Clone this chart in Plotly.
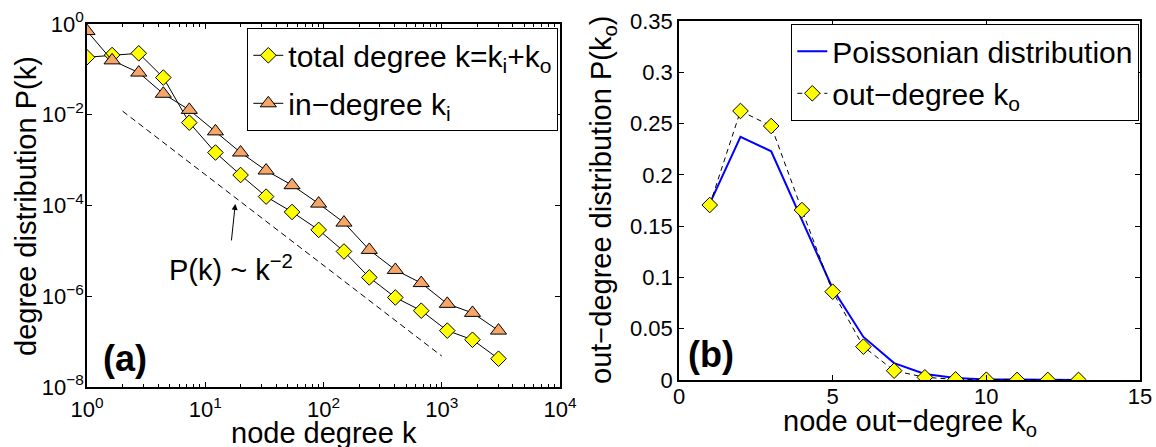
import plotly.graph_objects as go

# ---------------- data ----------------
deg_k = [1.0, 1.63, 2.74, 4.42, 7.33, 12.2, 19.9, 32.7, 54.2, 91, 149, 244,
         405, 671, 1114, 1820, 3020]
total_p = [0.185, 0.207, 0.226, 0.066, 0.0067, 0.00147, 4.7e-4, 1.57e-4,
           7.2e-5, 2.9e-5, 9.7e-6, 2.6e-6, 9.4e-7, 4.8e-7, 1.75e-7, 1.1e-7,
           4.2e-8]
in_p = [0.70, 0.158, 0.085, 0.029, 0.0128, 0.0043, 0.00147, 5.9e-4, 2.8e-4,
        1.1e-4, 4.2e-5, 1.05e-5, 3.8e-6, 1.95e-6, 6.8e-7, 4.3e-7, 1.75e-7]
guide_k = [2.0, 1000.0]
guide_p = [1.2e-2, 4.8e-8]

out_k = [1, 2, 3, 4, 5, 6, 7, 8, 9, 10, 11, 12, 13]
out_p = [0.1706, 0.2623, 0.2476, 0.1657, 0.0861, 0.0325, 0.0091, 0.0026,
         0.0006, 0.0003, 0.0001, 0.0001, 0.0001]
pois_p = [0.172, 0.237, 0.223, 0.156, 0.089, 0.042, 0.0165, 0.0058, 0.002,
          0.0006, 0.0002, 0.0001, 0.0]

xa_vals = [1, 10, 100, 1000, 10000]
xa_text = ["10<sup>0</sup>", "10<sup>1</sup>", "10<sup>2</sup>",
           "10<sup>3</sup>", "10<sup>4</sup>"]
ya_vals = [1e-8, 1e-6, 1e-4, 1e-2, 1]
ya_text = ["10<sup>−8</sup>", "10<sup>−6</sup>", "10<sup>−4</sup>",
           "10<sup>−2</sup>", "10<sup>0</sup>"]
xb_vals = [0, 5, 10, 15]
xb_text = ["0", "5", "10", "15"]
yb_vals = [0, 0.05, 0.1, 0.15, 0.2, 0.25, 0.3, 0.35]
yb_text = ["0", "0.05", "0.1", "0.15", "0.2", "0.25", "0.3", "0.35"]

# ---------------- style ----------------
FONT = "Liberation Sans, Arial, Helvetica, sans-serif"
W, H = 1156, 447
YELLOW = "#ffff00"
ORANGE = "rgb(248,166,104)"

fig = go.Figure()

fig.add_trace(go.Scatter(
    x=deg_k, y=total_p, mode="lines+markers",
    name="total degree k=k<sub>i</sub>+k<sub>o</sub>", legendgroup="g1",
    line=dict(color="black", width=1),
    marker=dict(symbol="diamond", size=12, color=YELLOW,
                line=dict(color="black", width=1)),
    xaxis="x", yaxis="y", legend="legend"))
fig.add_trace(go.Scatter(
    x=deg_k, y=in_p, mode="lines+markers", name="in−degree k<sub>i</sub>",
    legendgroup="g2",
    line=dict(color="black", width=1),
    marker=dict(symbol="triangle-up", size=14, color=ORANGE,
                line=dict(color="black", width=1)),
    xaxis="x", yaxis="y", legend="legend"))
fig.add_trace(go.Scatter(
    x=guide_k, y=guide_p, mode="lines", showlegend=False,
    line=dict(color="black", width=1, dash="6px,4px"),
    xaxis="x", yaxis="y"))

fig.add_trace(go.Scatter(
    x=out_k, y=pois_p, mode="lines", name="Poissonian distribution",
    legendgroup="g3",
    line=dict(color="#0000ff", width=2),
    xaxis="x2", yaxis="y2", legend="legend2"))
fig.add_trace(go.Scatter(
    x=out_k, y=out_p, mode="lines+markers", name="out−degree k<sub>o</sub>",
    legendgroup="g4",
    line=dict(color="black", width=1, dash="5px,4px"),
    marker=dict(symbol="diamond", size=12, color=YELLOW,
                line=dict(color="black", width=1)),
    xaxis="x2", yaxis="y2", legend="legend2"))

def px_x(p):
    return p / W

def px_y(p):
    return 1 - p / H

axis_common = dict(showline=True, linecolor="black", linewidth=1.6,
                   mirror="allticks", ticks="inside", ticklen=5,
                   tickcolor="black", tickwidth=1, showgrid=False,
                   zeroline=False, automargin=False,
                   tickfont=dict(size=22, color="black", family=FONT),
                   tickmode="array")

minor_vals = [m * 10 ** e for e in range(4) for m in range(2, 10)]

fig.update_layout(
    template="none",
    width=W, height=H, autosize=False,
    margin=dict(l=0, r=0, t=0, b=0, pad=0),
    paper_bgcolor="white", plot_bgcolor="white",
    font=dict(family=FONT, color="black", size=22),
    xaxis=dict(axis_common, type="log", range=[0, 4],
               domain=[px_x(87), px_x(560)], anchor="y",
               tickvals=xa_vals, ticktext=xa_text, ticklabelstandoff=2,
               minor=dict(tickmode="array", tickvals=minor_vals,
                          ticks="inside", ticklen=3, tickcolor="black",
                          showgrid=False)),
    yaxis=dict(axis_common, type="log", range=[-8, 0],
               domain=[px_y(387), px_y(24)], anchor="x",
               tickvals=ya_vals, ticktext=ya_text, ticklabelstandoff=-3),
    xaxis2=dict(axis_common, range=[0, 15],
                domain=[px_x(679), px_x(1140)], anchor="y2",
                tickvals=xb_vals, ticktext=xb_text, ticklabelstandoff=-4),
    yaxis2=dict(axis_common, range=[0, 0.35],
                domain=[px_y(380), px_y(21)], anchor="x2",
                tickvals=yb_vals, ticktext=yb_text, ticklabelstandoff=0),
    legend=dict(x=px_x(247), y=px_y(28), xanchor="left", yanchor="top",
                bgcolor="white", bordercolor="black", borderwidth=1.3,
                font=dict(size=30, family=FONT, color="black"),
                traceorder="grouped", tracegroupgap=6),
    legend2=dict(x=px_x(791), y=px_y(24), xanchor="left", yanchor="top",
                 bgcolor="white", bordercolor="black", borderwidth=1.3,
                 font=dict(size=30, family=FONT, color="black"),
                 traceorder="grouped", tracegroupgap=0),
)

ann = []
# axis titles
ann.append(dict(text="node degree k", x=px_x(323.5), y=px_y(433),
                xref="paper", yref="paper", showarrow=False,
                xanchor="center", yanchor="middle", font=dict(size=29)))
ann.append(dict(text="degree distribution P(k)", x=px_x(26), y=px_y(206),
                xref="paper", yref="paper", showarrow=False, textangle=-90,
                xanchor="center", yanchor="middle", font=dict(size=29)))
ann.append(dict(text="node out−degree k<sub>o</sub>", x=px_x(909.5), y=px_y(423),
                xref="paper", yref="paper", showarrow=False,
                xanchor="center", yanchor="middle", font=dict(size=29)))
ann.append(dict(text="out−degree distribution P(k<sub>o</sub>)", x=px_x(603), y=px_y(200),
                xref="paper", yref="paper", showarrow=False, textangle=-90,
                xanchor="center", yanchor="middle", font=dict(size=29)))
# panel labels
ann.append(dict(text="<b>(a)</b>", x=px_x(125), y=px_y(358),
                xref="paper", yref="paper", showarrow=False,
                xanchor="center", yanchor="middle", font=dict(size=36)))
ann.append(dict(text="<b>(b)</b>", x=px_x(711), y=px_y(354),
                xref="paper", yref="paper", showarrow=False,
                xanchor="center", yanchor="middle", font=dict(size=36)))
# power-law note and arrow
ann.append(dict(text="P(k) ~ k<sup>−2</sup>", x=px_x(231), y=px_y(268),
                xref="paper", yref="paper", showarrow=False,
                xanchor="center", yanchor="middle", font=dict(size=29)))
ann.append(dict(text="", x=1.254, y=-3.965, xref="x", yref="y",
                showarrow=True, arrowhead=2, arrowsize=1.2, arrowwidth=1,
                arrowcolor="black", ax=-4, ay=38, axref="pixel", ayref="pixel"))
fig.update_layout(annotations=ann)

fig.write_html("out.html",
               config={"displayModeBar": False},
               post_script="document.body.style.margin='0';"
                           "document.body.style.overflow='hidden';")
